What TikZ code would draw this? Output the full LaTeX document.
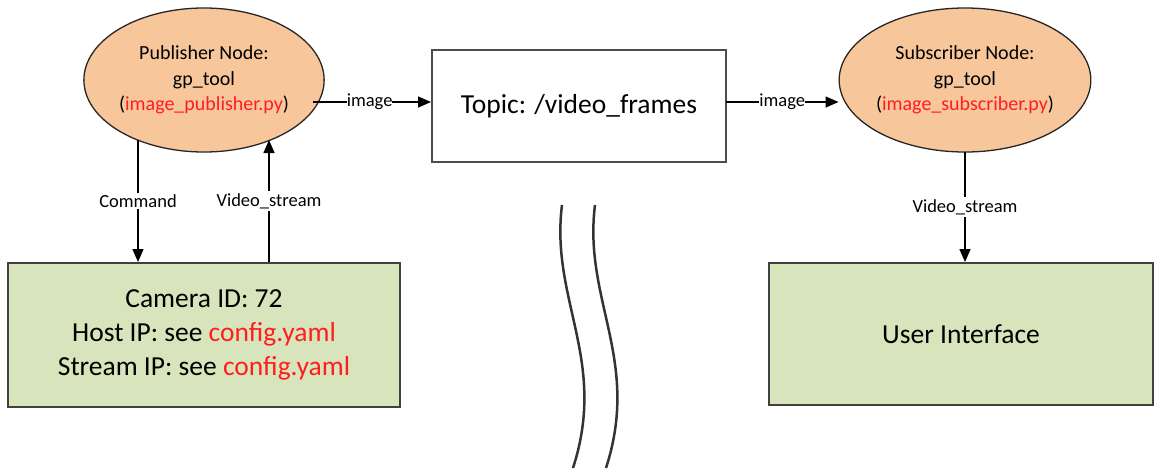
\documentclass[tikz,border=0pt]{standalone}
\usepackage{fontspec}
\setmainfont{Carlito}
\usetikzlibrary{shapes.geometric,arrows.meta}
\definecolor{nodeor}{RGB}{248,198,155}
\definecolor{boxgr}{RGB}{216,228,188}
\definecolor{cfg}{RGB}{255,30,30}
\tikzset{
  rosnode/.style={ellipse,draw=black!85,line width=1.3pt,fill=nodeor,minimum width=218pt,minimum height=144pt,inner sep=0pt,align=center,font=\fontsize{20}{25.5}\selectfont},
  greenbox/.style={rectangle,draw=black!75,line width=2pt,fill=boxgr,minimum width=392pt,minimum height=144pt,inner sep=0pt,align=center,font=\fontsize{27.5}{34}\selectfont},
  topicbox/.style={rectangle,draw=black!70,line width=2pt,fill=white,minimum width=294pt,minimum height=112pt,inner sep=0pt,font=\fontsize{27.5}{30}\selectfont},
  conn/.style={draw=black,line width=1.5pt,-{Triangle[length=13pt,width=11pt]}},
  lbl/.style={font=\fontsize{18.5}{20}\selectfont,fill=white,inner sep=2pt},
  wave/.style={draw=black!80,line width=2.5pt}
}
\begin{document}
\begin{tikzpicture}[x=1pt,y=-1pt]
\useasboundingbox (0,0) rectangle (1161,472);
\node[rosnode] (pub) at (204,80) {Publisher Node:\\gp\_tool\\(\textcolor{cfg}{image\_publisher.py})};
\node[topicbox] (topic) at (579,106) {Topic: /video\_frames};
\node[rosnode] (sub) at (965,80) {Subscriber Node:\\gp\_tool\\(\textcolor{cfg}{image\_subscriber.py})};
\node[greenbox] (cam) at (204,335) {Camera ID: 72\\Host IP: see \textcolor{cfg}{config.yaml}\\Stream IP: see \textcolor{cfg}{config.yaml}};
\node[greenbox,minimum width=384pt,minimum height=142pt] (ui) at (961,334) {User Interface};

\coordinate (c1) at (138,140);
\coordinate (c2) at (269,140);
\coordinate (i1) at (313,102);
\coordinate (i2) at (726,102);
\coordinate (s1) at (965,152);

\draw[conn] (c1) -- node[lbl,pos=0.5]{Command} (c1 |- cam.north);
\draw[conn] (c2 |- cam.north) -- node[lbl,pos=0.5]{Video\_stream} (c2);
\draw[conn] (i1) -- node[lbl,pos=0.48,inner sep=0pt]{image} (topic.west |- i1);
\draw[conn] (i2) -- node[lbl,pos=0.5,inner sep=0pt]{image} (sub.west |- i2);
\draw[conn] (s1) -- node[lbl,pos=0.5]{Video\_stream} (s1 |- ui.north);

\coordinate (w1a) at (562,205);
\coordinate (w1b) at (573,468);
\coordinate (w2a) at (595,205);
\coordinate (w2b) at (606,468);
\draw[wave] (w1a) .. controls (550,300) and (608,360) .. (w1b);
\draw[wave] (w2a) .. controls (583,300) and (641,360) .. (w2b);
\end{tikzpicture}
\end{document}
